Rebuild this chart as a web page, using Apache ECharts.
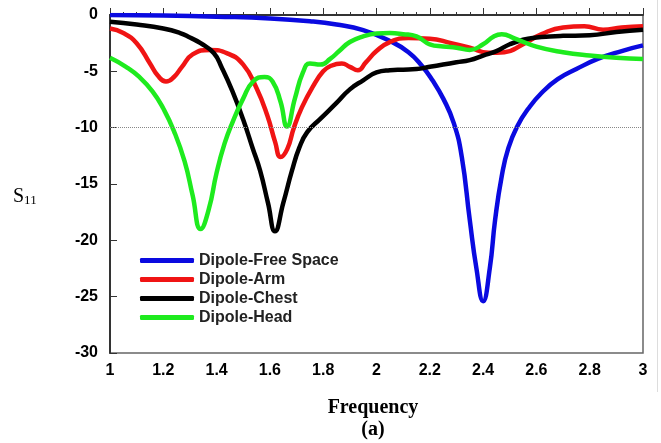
<!DOCTYPE html>
<html lang="en">
<head>
  <meta charset="utf-8">
  <title>S11 vs Frequency</title>
  <style>
    * { margin: 0; padding: 0; }
    #chart-container { width: 661px; height: 443px; background: #fff; }
  </style>
</head>
<body>
  <div id="chart-container"></div>
  <script src="https://fastly.jsdelivr.net/npm/echarts@6/dist/echarts.min.js"></script>
  <script>
    // data (frequency, S11)
    const freeSpaceX = [1.0, 1.2, 1.4, 1.6, 1.75, 1.85, 1.95, 2.05, 2.12, 2.17, 2.21, 2.25, 2.29, 2.32, 2.35, 2.375, 2.40, 2.425, 2.445, 2.47, 2.495, 2.53, 2.57, 2.62, 2.68, 2.75, 2.83, 2.92, 3.0];
    const freeSpaceY = [0, -0.05, -0.15, -0.3, -0.55, -0.85, -1.35, -2.3, -3.3, -4.5, -5.8, -7.4, -9.6, -12.6, -18.2, -22.5, -25.4, -22.5, -18.2, -14.3, -11.8, -9.8, -8.3, -6.9, -5.7, -4.8, -3.9, -3.2, -2.7];

    const armX = [1.0, 1.05, 1.1, 1.15, 1.18, 1.21, 1.24, 1.27, 1.31, 1.375, 1.44, 1.5, 1.55, 1.59, 1.62, 1.64, 1.665, 1.69, 1.72, 1.76, 1.8, 1.83, 1.87, 1.9, 1.93, 1.96, 2.0, 2.05, 2.12, 2.2, 2.28, 2.35, 2.42, 2.48, 2.55, 2.62, 2.7, 2.78, 2.85, 2.92, 3.0];
    const armY = [-1.2, -1.6, -2.5, -4.3, -5.4, -5.9, -5.5, -4.6, -3.5, -3.1, -3.4, -4.4, -6.5, -8.9, -11.3, -12.6, -11.9, -10.0, -8.2, -6.4, -5.0, -4.5, -4.3, -4.6, -4.9, -4.2, -3.2, -2.4, -2.05, -2.1, -2.5, -2.9, -3.35, -3.3, -2.6, -1.7, -1.1, -1.0, -1.3, -1.1, -1.0];

    const chestX = [1.0, 1.1, 1.2, 1.263, 1.3, 1.34, 1.39, 1.42, 1.46, 1.5, 1.535, 1.563, 1.593, 1.619, 1.65, 1.683, 1.71, 1.74, 1.79, 1.85, 1.9, 1.95, 2.0, 2.05, 2.1, 2.15, 2.2, 2.25, 2.3, 2.35, 2.4, 2.45, 2.5, 2.55, 2.6, 2.65, 2.7, 2.8, 2.9, 3.0];
    const chestY = [-0.6, -0.85, -1.2, -1.6, -2.0, -2.5, -3.4, -4.7, -6.8, -9.3, -11.8, -13.8, -16.7, -19.2, -16.7, -13.8, -11.8, -10.4, -9.2, -7.8, -6.6, -5.8, -5.1, -4.9, -4.85, -4.8, -4.6, -4.4, -4.2, -4.0, -3.6, -3.2, -2.6, -2.2, -2.0, -1.9, -1.85, -1.8, -1.5, -1.3];

    const headX = [1.0, 1.06, 1.11, 1.16, 1.2, 1.24, 1.28, 1.31, 1.34, 1.37, 1.4, 1.43, 1.46, 1.5, 1.537, 1.58, 1.61, 1.64, 1.664, 1.694, 1.724, 1.75, 1.79, 1.826, 1.86, 1.9, 1.95, 2.0, 2.05, 2.1, 2.15, 2.2, 2.25, 2.3, 2.35, 2.4, 2.44, 2.47, 2.52, 2.6, 2.7, 2.8, 2.9, 3.0];
    const headY = [-3.8, -4.6, -5.5, -6.8, -8.3, -10.3, -13.0, -16.0, -19.0, -17.3, -14.0, -11.4, -9.5, -7.4, -5.9, -5.5, -5.9, -7.7, -9.9, -7.4, -5.1, -4.3, -4.4, -3.9, -3.2, -2.4, -1.9, -1.65, -1.6, -1.7, -1.9, -2.6, -2.8, -2.9, -3.1, -2.6, -1.9, -1.7, -2.1, -2.8, -3.3, -3.6, -3.8, -3.9];

    const seriesNames = ['Dipole-Free Space', 'Dipole-Arm', 'Dipole-Chest', 'Dipole-Head'];
    const seriesColors = ['#0a0ae0', '#f01414', '#000000', '#1eeb1e'];

    function pairs(xs, ys) {
      return xs.map((x, i) => [x, ys[i]]);
    }

    var dom = document.getElementById('chart-container');
    var myChart = echarts.init(dom, null, { renderer: 'canvas' });

    const allData = [
      pairs(freeSpaceX, freeSpaceY),
      pairs(armX, armY),
      pairs(chestX, chestY),
      pairs(headX, headY)
    ];

    const tickFont = {
      fontFamily: 'Liberation Sans',
      fontWeight: 'bold',
      fontSize: 16,
      color: '#000'
    };

    var option = {
      backgroundColor: '#fff',
      animation: false,
      grid: {
        left: 110, right: 18, top: 15, bottom: 90,
        show: true, borderColor: '#666', borderWidth: 1.5
      },
      legend: {
        orient: 'vertical',
        left: 140,
        top: 251,
        padding: 0,
        icon: 'roundRect',
        itemWidth: 54,
        itemHeight: 5,
        itemGap: 0,
        data: seriesNames,
        textStyle: {
          fontFamily: 'Liberation Sans',
          fontWeight: 'bold',
          fontSize: 16,
          lineHeight: 19,
          color: '#222'
        }
      },
      xAxis: {
        type: 'value',
        min: 1, max: 3, interval: 0.2,
        axisLine: { lineStyle: { color: '#333', width: 2 } },
        axisTick: { inside: true, length: 7, lineStyle: { color: '#333' } },
        minorTick: { show: true, splitNumber: 4, length: 3, lineStyle: { color: '#333' } },
        splitLine: { show: false },
        axisLabel: Object.assign({ margin: 10, formatter: v => String(+v.toFixed(1)) }, tickFont)
      },
      yAxis: {
        type: 'value',
        min: -30, max: 0, interval: 5,
        axisLine: { show: true, lineStyle: { color: '#333', width: 2 } },
        axisTick: { show: true, inside: true, length: 7, lineStyle: { color: '#333' } },
        splitLine: { show: false },
        axisLabel: Object.assign({ margin: 12 }, tickFont)
      },
      graphic: [
        {
          type: 'text', left: 13, top: 187,
          style: {
            text: '{s|S}{sub|11}',
            rich: {
              s: { fontFamily: 'Liberation Serif', fontSize: 20, lineHeight: 20, color: '#000', verticalAlign: 'bottom' },
              sub: { fontFamily: 'Liberation Serif', fontSize: 13, lineHeight: 13, color: '#000', verticalAlign: 'bottom' }
            }
          }
        },
        {
          type: 'text', x: 373, y: 408,
          style: {
            text: 'Frequency', align: 'center', verticalAlign: 'middle',
            fontFamily: 'Liberation Serif', fontWeight: 'bold', fontSize: 20, fill: '#000'
          }
        },
        {
          type: 'text', x: 373, y: 430,
          style: {
            text: '(a)', align: 'center', verticalAlign: 'middle',
            fontFamily: 'Liberation Serif', fontWeight: 'bold', fontSize: 20, fill: '#000'
          }
        },
        {
          type: 'line',
          shape: { x1: 657.5, y1: 0, x2: 657.5, y2: 392 },
          style: { stroke: '#ddd', lineWidth: 1 }
        }
      ],
      series: allData.map((d, i) => ({
        name: seriesNames[i],
        type: 'line',
        data: d,
        smooth: 0.5,
        showSymbol: false,
        color: seriesColors[i],
        lineStyle: { width: 4.5, color: seriesColors[i] },
        markLine: i === 0 ? {
          silent: true,
          symbol: 'none',
          label: { show: false },
          lineStyle: { type: 'dotted', color: '#888', width: 1 },
          data: [{ yAxis: -10 }]
        } : undefined
      }))
    };

    myChart.setOption(option);
    window.addEventListener('resize', myChart.resize);
  </script>
</body>
</html>
